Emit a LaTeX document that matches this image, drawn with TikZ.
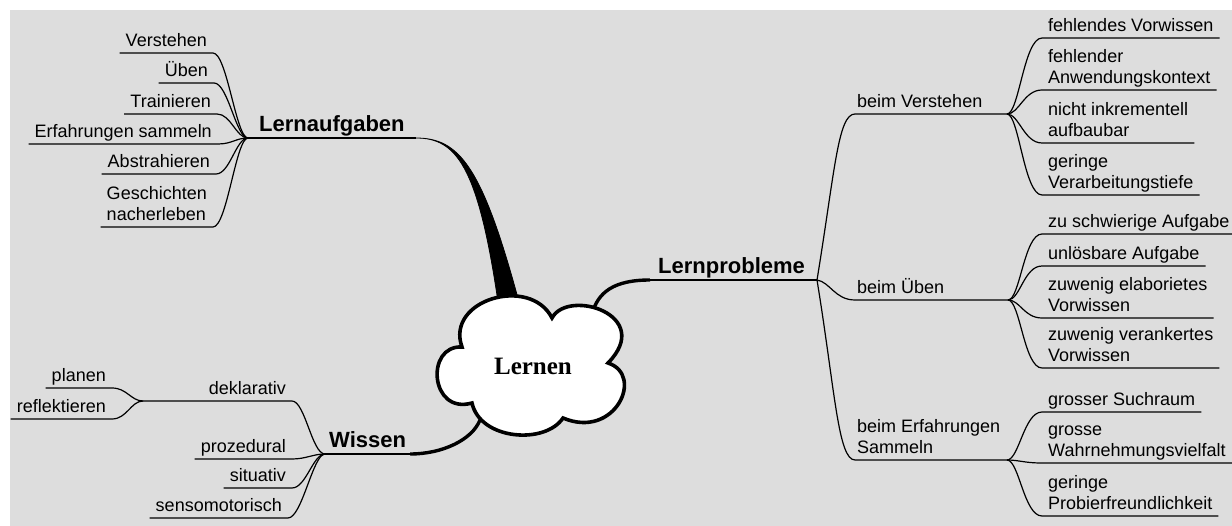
\documentclass[tikz,border=0pt]{standalone}
\usepackage{fontspec}
\newfontfamily\lsans{Liberation Sans}
\newfontfamily\lserif{Liberation Serif}
\definecolor{canvas}{RGB}{221,221,221}
\begin{document}
\begin{tikzpicture}[x=1pt,y=-1pt,
  leaf/.style={font=\lsans\fontsize{18}{21.5}\selectfont, inner xsep=6pt, inner ysep=0pt,
    align=left, execute at end node={\rule[-6pt]{0pt}{0pt}}},
  mid/.style={leaf, inner xsep=2pt},
  topic/.style={font=\lsans\bfseries\fontsize{22}{26}\selectfont, inner ysep=0pt,
    execute at end node={\rule[-6pt]{0pt}{0pt}}},
  twig/.style={line width=1.2pt},
  trunk/.style={line width=3.4pt},
]
\useasboundingbox (0,0) rectangle (1232,526);
\fill[canvas] (10,10) rectangle (1232,526);

% ---------- main topics ----------
\coordinate (hLA) at (248,138);
\node[topic, anchor=south west, inner xsep=11pt] (LA) at (hLA) {Lernaufgaben};
\coordinate (hLP) at (817,280);
\node[topic, anchor=south west, inner xsep=8pt] (LP) at (650,280) {Lernprobleme};
\coordinate (hW) at (325,454);
\node[topic, anchor=south west, inner xsep=4pt] (W) at (hW) {Wissen};

% attachment points on the cloud
\coordinate (cLA1) at (498,302);
\coordinate (cLA2) at (519,302);
\coordinate (cLP) at (592,314);
\coordinate (cW) at (480,420);

% trunks from the cloud
\draw[twig] (hLA) -- (LA.south east);
\filldraw[line width=0.8pt] (LA.south east) .. controls +(40,0) and (478,165) .. (cLA1)
  -- (cLA2) .. controls (482,165) and +(43,0) .. (LA.south east) -- cycle;
\draw[twig] (LP.south west) -- (hLP);
\draw[trunk] (cLP) .. controls (598,292) and (614,280) .. (LP.south west);
\draw[twig] (hW) -- (W.south east);
\draw[trunk] (W.south east) .. controls +(32,0) and (472,440) .. (cW);

% ---------- central cloud ----------
\filldraw[fill=white, line width=3.6pt]
  (462,347) .. controls (445,300) and (530,275) .. (552,318)
  .. controls (568,288) and (655,315) .. (608,363)
  .. controls (645,375) and (615,440) .. (563,418)
  .. controls (545,445) and (480,440) .. (472,403)
  .. controls (430,415) and (425,345) .. cycle;
\node[font=\lserif\bfseries\fontsize{25}{30}\selectfont] (Lernen) at (533,366) {Lernen};

% ---------- Lernaufgaben ----------
\node[leaf, anchor=south east] (la1) at (213,53) {Verstehen};
\node[leaf, anchor=south east] (la2) at (214,83) {Üben};
\node[leaf, anchor=south east] (la3) at (217,114) {Trainieren};
\node[leaf, anchor=south east] (la4) at (218,144) {Erfahrungen sammeln};
\node[leaf, anchor=south east] (la5) at (216,174) {Abstrahieren};
\node[leaf, anchor=south east] (la6) at (213,227) {Geschichten\\nacherleben};
\foreach \n in {la1,la2,la3,la4,la5,la6}
  \draw[twig] (\n.south west) -- (\n.south east) .. controls +(14,0) and +(-12,0) .. (hLA);

% ---------- Lernprobleme ----------
\node[mid, anchor=south west] (bv) at (855,114) {beim Verstehen};
\coordinate (hBV) at (1007,114);
\draw[twig] (hLP) .. controls (835,170) and (838,114) .. (bv.south west) -- (hBV);
\node[mid, anchor=south west] (bu) at (855,300) {beim Üben};
\coordinate (hBU) at (1008,300);
\draw[twig] (hLP) .. controls (830,282) and (835,300) .. (bu.south west) -- (hBU);
\node[mid, anchor=south west] (be) at (855,460) {beim Erfahrungen\\Sammeln};
\coordinate (hBE) at (1007,460);
\draw[twig] (hLP) .. controls (835,390) and (838,460) .. (be.south west) -- (hBE);

\node[leaf, anchor=south west] (v1) at (1042,38) {fehlendes Vorwissen};
\node[leaf, anchor=south west] (v2) at (1042,90) {fehlender\\Anwendungskontext};
\node[leaf, anchor=south west] (v3) at (1042,143) {nicht inkrementell\\aufbaubar};
\node[leaf, anchor=south west] (v4) at (1042,195) {geringe\\Verarbeitungstiefe};
\foreach \n in {v1,v2,v3,v4}
  \draw[twig] (hBV) .. controls +(12,0) and +(-18,0) .. (\n.south west) -- (\n.south east);

\node[leaf, anchor=south west] (u1) at (1042,234) {zu schwierige Aufgabe};
\node[leaf, anchor=south west] (u2) at (1042,266) {unlösbare Aufgabe};
\node[leaf, anchor=south west] (u3) at (1042,318) {zuwenig elaborietes\\Vorwissen};
\node[leaf, anchor=south west] (u4) at (1042,368) {zuwenig verankertes\\Vorwissen};
\foreach \n in {u1,u2,u3,u4}
  \draw[twig] (hBU) .. controls +(12,0) and +(-18,0) .. (\n.south west) -- (\n.south east);

\node[leaf, anchor=south west] (e1) at (1042,412) {grosser Suchraum};
\node[leaf, anchor=south west] (e2) at (1042,463) {grosse\\Wahrnehmungsvielfalt};
\node[leaf, anchor=south west] (e3) at (1042,516) {geringe\\Probierfreundlichkeit};
\foreach \n in {e1,e2,e3}
  \draw[twig] (hBE) .. controls +(12,0) and +(-18,0) .. (\n.south west) -- (\n.south east);

% ---------- Wissen ----------
\node[leaf, anchor=south east] (dk) at (292,401) {deklarativ};
\coordinate (hD) at (143,401);
\draw[twig] (hD) -- (dk.south east) .. controls +(13,0) and +(-13,0) .. (hW);
\node[leaf, anchor=south east] (w2) at (292,459) {prozedural};
\node[leaf, anchor=south east] (w3) at (292,488) {situativ};
\node[leaf, anchor=south east] (w4) at (288,518) {sensomotorisch};
\foreach \n in {w2,w3,w4}
  \draw[twig] (\n.south west) -- (\n.south east) .. controls +(14,0) and +(-12,0) .. (hW);

\node[leaf, anchor=south east] (d1) at (112,388) {planen};
\node[leaf, anchor=south east] (d2) at (112,419) {reflektieren};
\foreach \n in {d1,d2}
  \draw[twig] (\n.south west) -- (\n.south east) .. controls +(15,0) and +(-12,0) .. (hD);
\end{tikzpicture}
\end{document}
